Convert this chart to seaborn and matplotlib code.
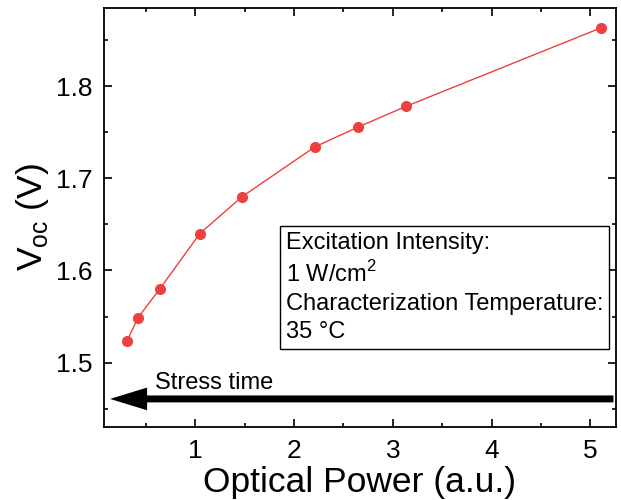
import matplotlib
matplotlib.use("Agg")
import matplotlib.pyplot as plt
import seaborn as sns
import pandas as pd
from matplotlib.ticker import MultipleLocator

optical_power = [0.31, 0.42, 0.64, 1.045, 1.473, 2.21, 2.648, 3.134, 5.106]
voc = [1.524, 1.549, 1.580, 1.640, 1.680, 1.734, 1.7555, 1.778, 1.863]

sns.set_theme(style="ticks")
plt.rcParams['font.family'] = ['Liberation Sans', 'DejaVu Sans']
plt.rcParams['mathtext.fontset'] = 'custom'
plt.rcParams['mathtext.rm'] = 'Liberation Sans'
plt.rcParams['text.color'] = 'black'
plt.rcParams['axes.labelcolor'] = 'black'
plt.rcParams['xtick.color'] = 'black'
plt.rcParams['ytick.color'] = 'black'

df = pd.DataFrame({"x": optical_power, "y": voc})

fig = plt.figure(figsize=(6.21, 5.0), dpi=100)
ax = fig.add_axes([104/621, 73/500, (616-104)/621, (427-8)/500])

sns.lineplot(data=df, x="x", y="y", ax=ax, color="#EF4040", linewidth=1.0,
             marker="o", markersize=8, markeredgewidth=0, markerfacecolor="#EF4040")

ax.set_xlim(0.075, 5.26)
ax.set_ylim(1.4303, 1.8846)
ax.xaxis.set_major_locator(MultipleLocator(1))
ax.xaxis.set_minor_locator(MultipleLocator(0.5))
ax.yaxis.set_major_locator(MultipleLocator(0.1))
ax.yaxis.set_minor_locator(MultipleLocator(0.05))
ax.set_xticks([1, 2, 3, 4, 5])
ax.set_xticklabels(["1", "2", "3", "4", "5"])
ax.tick_params(which="both", direction="in", top=True, right=True, width=1.2, colors="black")
ax.tick_params(which="major", length=6)
ax.tick_params(which="minor", length=3)
ax.tick_params(axis="y", labelsize=19, pad=8)
ax.tick_params(axis="x", labelsize=19, pad=9)
for s in ax.spines.values():
    s.set_linewidth(1.3)
    s.set_color("black")

ax.set_xlabel("Optical Power (a.u.)", fontsize=25.5, labelpad=2)
ax.set_ylabel("V$_{\\mathrm{oc}}$ (V)", fontsize=25.5, labelpad=4)

ax.text(0.355, 0.466,
        "Excitation Intensity:\n1 W/cm$^2$\nCharacterization Temperature:\n35 °C",
        transform=ax.transAxes, fontsize=17, va="top", ha="left", linespacing=1.36,
        bbox=dict(boxstyle="square,pad=0.25", facecolor="white", edgecolor="black", linewidth=1.0))

ax.annotate("", xy=(0.012, 0.067), xytext=(0.995, 0.067), xycoords="axes fraction",
            arrowprops=dict(arrowstyle="-|>,head_length=1.3,head_width=0.4", color="black",
                            linewidth=5, shrinkA=0, shrinkB=0, capstyle="butt", joinstyle="miter"),
            annotation_clip=False)
ax.text(0.1, 0.105, "Stress time", transform=ax.transAxes, fontsize=17, ha="left", va="center")

fig.savefig("out.png", dpi=100)
